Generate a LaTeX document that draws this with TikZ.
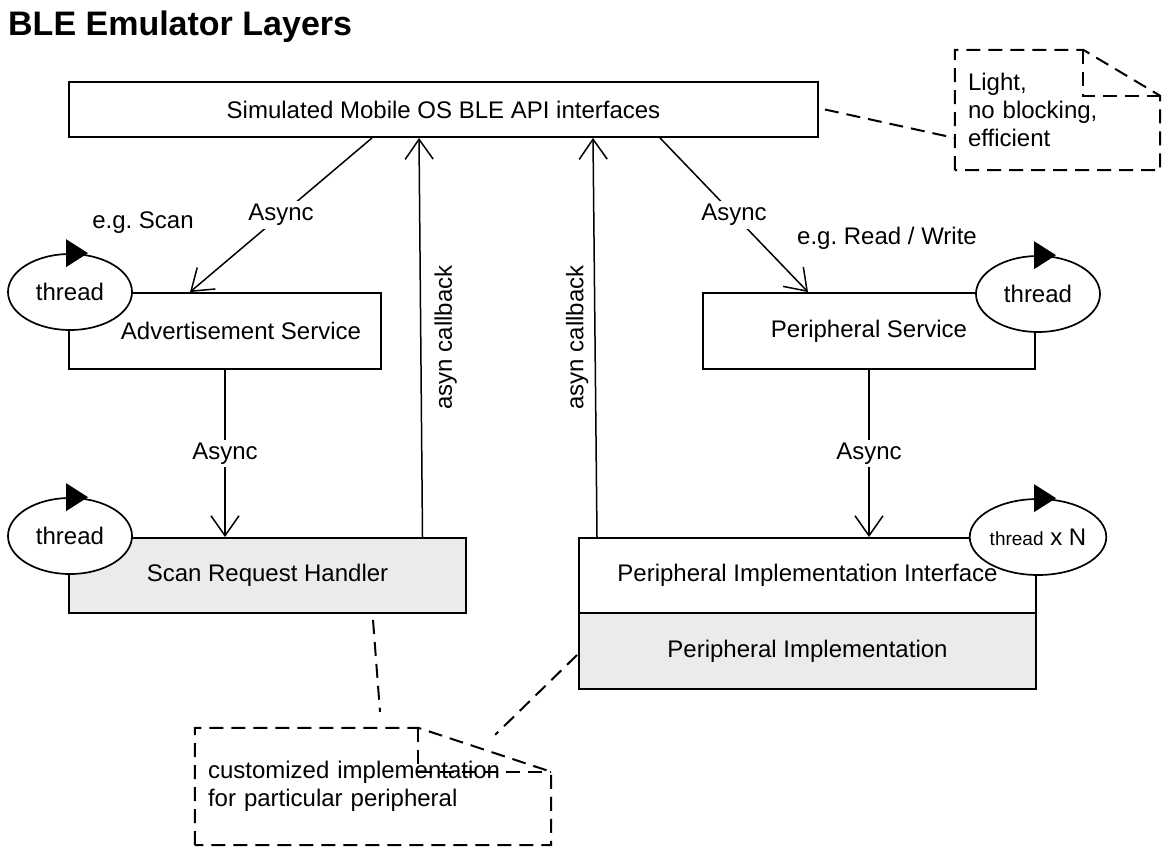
\documentclass[tikz,border=0pt]{standalone}
\usepackage{fontspec}
\setmainfont{Liberation Sans}
\frenchspacing
\usetikzlibrary{arrows.meta,positioning,shapes.geometric}
\definecolor{implgray}{HTML}{EBEBEB}
\tikzstyle{layer}=[rectangle,draw,line width=1.9pt,inner sep=0pt,text centered]
\tikzstyle{impl}=[layer,fill=implgray]
\tikzstyle{thread}=[ellipse,draw,fill=white,line width=1.7pt,minimum width=124pt,minimum height=76pt,inner sep=0pt]
\tikzstyle{async}=[-{Straight Barb[length=20pt,width=28pt]},line width=1.5pt]
\tikzstyle{flow label}=[fill=white,inner sep=3pt]
\tikzstyle{note area}=[rectangle,inner ysep=0pt,align=left]
\tikzstyle{note line}=[line width=2pt,dash pattern=on 14pt off 8pt]
% dashed note with folded corner: node, fold width, fold height
\newcommand{\notefold}[3]{
  \draw[note line] (#1.south west) -- (#1.north west) -- ([shift={(-#2,0)}]#1.north east)
    -- ([shift={(0,#3)}]#1.north east) -- (#1.south east) -- cycle;
  \draw[note line] ([shift={(-#2,0)}]#1.north east) |- ([shift={(0,#3)}]#1.north east);
}
% running mark on top of a thread ellipse
\newcommand{\threadmark}[1]{
  \fill ([shift={(-4,-14)}]#1.north) -- ([shift={(18,0)}]#1.north) -- ([shift={(-4,14)}]#1.north) -- cycle;
}

\begin{document}
\begin{tikzpicture}[x=1pt,y=-1pt,font=\fontsize{24}{28}\selectfont]

\useasboundingbox (0,0) rectangle (1169,857);

\node (title) [anchor=base west,inner sep=0pt,font=\fontsize{34}{40}\selectfont\bfseries] at (8,35) {BLE Emulator Layers};

% layers
\node (api) [layer,minimum width=749pt,minimum height=55pt] at (443.5,109.5) {Simulated Mobile OS BLE API interfaces};
\node (adv) [layer,minimum width=312pt,minimum height=76pt,label={[xshift=16pt]center:Advertisement Service}] at (225,331) {};
\node (srh) [impl,minimum width=397pt,minimum height=75pt] at (267.5,575.5) {Scan Request Handler};
\node (ps) [layer,minimum width=332pt,minimum height=76pt] at (869,331) {Peripheral Service};
\node (pii) [layer,minimum width=457pt,minimum height=75pt] at (807.5,575.5) {Peripheral Implementation Interface};
\node (pimpl) [impl,minimum width=457pt,minimum height=76pt] at (807.5,651) {Peripheral Implementation};

% threads
\node (thr adv) [thread] at (70,292) {thread};
\node (thr srh) [thread] at (70,536) {thread};
\node (thr ps) [thread] at (1038,294) {thread};
\node (thr pii) [thread] at (1038,537) {{\fontsize{19}{22}\selectfont thread} x N};
\threadmark{thr adv}
\threadmark{thr srh}
\threadmark{thr ps}
\threadmark{thr pii}

\node (eg scan) at (143,223) {e.g. Scan};
\node (eg rw) at (887,238) {e.g. Read / Write};

% notes
\node (note light) [note area,minimum width=205pt,minimum height=120pt,text width=179pt,inner xsep=13pt] at (1057.5,110) {Light,\\no blocking,\\efficient};
\node (note custom) [note area,minimum width=356pt,minimum height=117pt,text width=330pt,inner xsep=13pt] at (373,786.5) {customized implementation\\for particular peripheral};
\notefold{note light}{77}{46}
\notefold{note custom}{133}{44}

% calls
\draw[async] ([shift={(-71.5,0)}]api.south) -- node[flow label] {Async} ([shift={(-35,0)}]adv.north);
\draw[async] ([shift={(216.5,0)}]api.south) -- node[flow label] {Async} ([shift={(-61,0)}]ps.north);
\draw[async] (adv.south) -- node[flow label] {Async} (adv.south |- srh.north);
\draw[async] (ps.south) -- node[flow label] {Async} (ps.south |- pii.north);

% callbacks
\draw[async] ([shift={(155,0)}]srh.north) -- node[midway,rotate=90,anchor=north,inner sep=13pt] {asyn callback} ([shift={(-24.5,0)}]api.south);
\draw[async] ([shift={(-210.5,0)}]pii.north) -- node[midway,rotate=90,anchor=south,inner sep=6pt] {asyn callback} ([shift={(149.5,0)}]api.south);

% note links
\draw[note line] ([shift={(6,0)}]api.east) -- ([shift={(0,28)}]note light.west);
\draw[note line] ([shift={(105.5,6)}]srh.south) -- ([shift={(7,-16)}]note custom.north);
\draw[note line] ([shift={(-1,4)}]pimpl.west) -- ([shift={(-56,7)}]note custom.north east);

\end{tikzpicture}
\end{document}
